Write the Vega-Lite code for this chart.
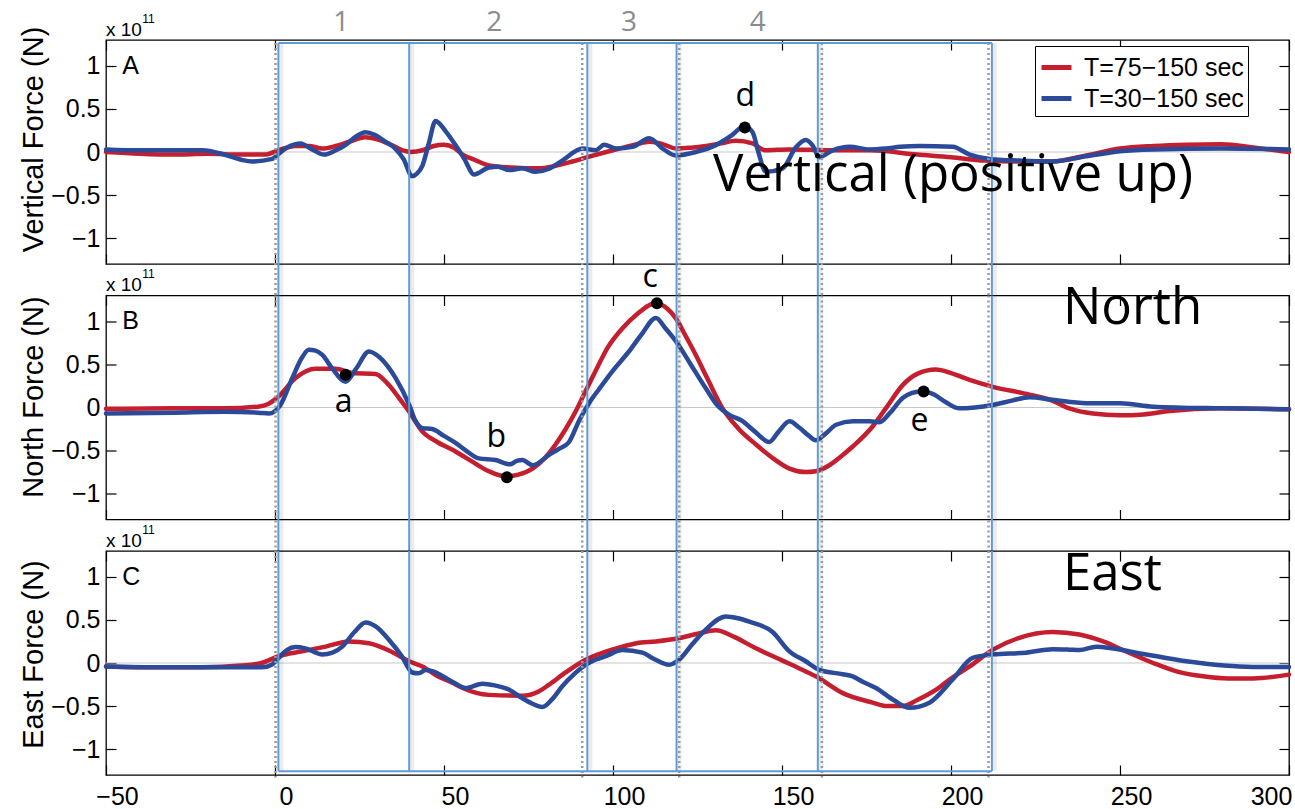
{
  "$schema": "https://vega.github.io/schema/vega-lite/v6.json",
  "background": "white",
  "padding": {"left": 18, "top": 8, "right": 0, "bottom": 0},
  "spacing": 31.5,
  "bounds": "flush",
  "resolve": {"scale": {"color": "independent"}},
  "config": {
    "view": {"stroke": "black", "strokeWidth": 1.3},
    "axis": {"labelFont": "Liberation Sans", "labelFontSize": 25, "labelColor": "black", "titleFont": "Liberation Sans", "titleFontSize": 29, "titleFontWeight": "normal", "titleColor": "black", "tickColor": "black", "tickWidth": 1.2, "labelOverlap": false, "labelFlush": false}
  },
  "datasets": {
    "curves": [
      {"p":"A","s":"T=75−150 sec","x":-50,"y":0.0},{"p":"A","s":"T=75−150 sec","x":-40,"y":-0.02},{"p":"A","s":"T=75−150 sec","x":-30,"y":-0.03},{"p":"A","s":"T=75−150 sec","x":-20,"y":-0.02},{"p":"A","s":"T=75−150 sec","x":-10,"y":-0.03},{"p":"A","s":"T=75−150 sec","x":-3,"y":-0.03},{"p":"A","s":"T=75−150 sec","x":1,"y":0.02},{"p":"A","s":"T=75−150 sec","x":6,"y":0.07},{"p":"A","s":"T=75−150 sec","x":10,"y":0.07},{"p":"A","s":"T=75−150 sec","x":14,"y":0.04},{"p":"A","s":"T=75−150 sec","x":18,"y":0.07},{"p":"A","s":"T=75−150 sec","x":22,"y":0.12},{"p":"A","s":"T=75−150 sec","x":26.7,"y":0.17},{"p":"A","s":"T=75−150 sec","x":30,"y":0.15},{"p":"A","s":"T=75−150 sec","x":34,"y":0.09},{"p":"A","s":"T=75−150 sec","x":37.7,"y":0.02},{"p":"A","s":"T=75−150 sec","x":40,"y":0.0},{"p":"A","s":"T=75−150 sec","x":43.7,"y":0.02},{"p":"A","s":"T=75−150 sec","x":47,"y":0.07},{"p":"A","s":"T=75−150 sec","x":50,"y":0.085},{"p":"A","s":"T=75−150 sec","x":53,"y":0.05},{"p":"A","s":"T=75−150 sec","x":55.5,"y":-0.03},{"p":"A","s":"T=75−150 sec","x":59,"y":-0.09},{"p":"A","s":"T=75−150 sec","x":63.3,"y":-0.155},{"p":"A","s":"T=75−150 sec","x":70,"y":-0.18},{"p":"A","s":"T=75−150 sec","x":78,"y":-0.19},{"p":"A","s":"T=75−150 sec","x":83,"y":-0.16},{"p":"A","s":"T=75−150 sec","x":88,"y":-0.11},{"p":"A","s":"T=75−150 sec","x":92.4,"y":-0.06},{"p":"A","s":"T=75−150 sec","x":98,"y":0.0},{"p":"A","s":"T=75−150 sec","x":103,"y":0.05},{"p":"A","s":"T=75−150 sec","x":107,"y":0.09},{"p":"A","s":"T=75−150 sec","x":110.7,"y":0.12},{"p":"A","s":"T=75−150 sec","x":114,"y":0.1},{"p":"A","s":"T=75−150 sec","x":118.8,"y":0.04},{"p":"A","s":"T=75−150 sec","x":123,"y":0.05},{"p":"A","s":"T=75−150 sec","x":127.5,"y":0.07},{"p":"A","s":"T=75−150 sec","x":132,"y":0.1},{"p":"A","s":"T=75−150 sec","x":136.3,"y":0.13},{"p":"A","s":"T=75−150 sec","x":141.3,"y":0.1},{"p":"A","s":"T=75−150 sec","x":145,"y":0.02},{"p":"A","s":"T=75−150 sec","x":152,"y":0.03},{"p":"A","s":"T=75−150 sec","x":165,"y":0.02},{"p":"A","s":"T=75−150 sec","x":176,"y":0.02},{"p":"A","s":"T=75−150 sec","x":190,"y":-0.03},{"p":"A","s":"T=75−150 sec","x":200,"y":-0.06},{"p":"A","s":"T=75−150 sec","x":210,"y":-0.1},{"p":"A","s":"T=75−150 sec","x":220,"y":-0.11},{"p":"A","s":"T=75−150 sec","x":230,"y":-0.11},{"p":"A","s":"T=75−150 sec","x":240,"y":-0.04},{"p":"A","s":"T=75−150 sec","x":250,"y":0.04},{"p":"A","s":"T=75−150 sec","x":260,"y":0.07},{"p":"A","s":"T=75−150 sec","x":270,"y":0.085},{"p":"A","s":"T=75−150 sec","x":280,"y":0.09},{"p":"A","s":"T=75−150 sec","x":290,"y":0.05},{"p":"A","s":"T=75−150 sec","x":300,"y":0.0},
      {"p":"A","s":"T=30−150 sec","x":-50,"y":0.03},{"p":"A","s":"T=30−150 sec","x":-40,"y":0.02},{"p":"A","s":"T=30−150 sec","x":-30,"y":0.02},{"p":"A","s":"T=30−150 sec","x":-21.5,"y":0.02},{"p":"A","s":"T=30−150 sec","x":-15,"y":-0.03},{"p":"A","s":"T=30−150 sec","x":-10,"y":-0.09},{"p":"A","s":"T=30−150 sec","x":-6.8,"y":-0.11},{"p":"A","s":"T=30−150 sec","x":-0.8,"y":-0.08},{"p":"A","s":"T=30−150 sec","x":1.1,"y":-0.02},{"p":"A","s":"T=30−150 sec","x":4,"y":0.06},{"p":"A","s":"T=30−150 sec","x":7.5,"y":0.1},{"p":"A","s":"T=30−150 sec","x":11,"y":0.03},{"p":"A","s":"T=30−150 sec","x":14.5,"y":-0.03},{"p":"A","s":"T=30−150 sec","x":18,"y":0.02},{"p":"A","s":"T=30−150 sec","x":20.8,"y":0.08},{"p":"A","s":"T=30−150 sec","x":24,"y":0.18},{"p":"A","s":"T=30−150 sec","x":26.7,"y":0.23},{"p":"A","s":"T=30−150 sec","x":29.5,"y":0.2},{"p":"A","s":"T=30−150 sec","x":32.6,"y":0.12},{"p":"A","s":"T=30−150 sec","x":35.6,"y":0.04},{"p":"A","s":"T=30−150 sec","x":38,"y":-0.08},{"p":"A","s":"T=30−150 sec","x":40.6,"y":-0.28},{"p":"A","s":"T=30−150 sec","x":42,"y":-0.25},{"p":"A","s":"T=30−150 sec","x":43.6,"y":-0.16},{"p":"A","s":"T=30−150 sec","x":45.5,"y":0.1},{"p":"A","s":"T=30−150 sec","x":47.5,"y":0.36},{"p":"A","s":"T=30−150 sec","x":50.5,"y":0.24},{"p":"A","s":"T=30−150 sec","x":53.4,"y":0.08},{"p":"A","s":"T=30−150 sec","x":56,"y":-0.08},{"p":"A","s":"T=30−150 sec","x":58.9,"y":-0.26},{"p":"A","s":"T=30−150 sec","x":63.3,"y":-0.18},{"p":"A","s":"T=30−150 sec","x":66,"y":-0.17},{"p":"A","s":"T=30−150 sec","x":69.3,"y":-0.21},{"p":"A","s":"T=30−150 sec","x":73.2,"y":-0.19},{"p":"A","s":"T=30−150 sec","x":77.1,"y":-0.23},{"p":"A","s":"T=30−150 sec","x":81.1,"y":-0.195},{"p":"A","s":"T=30−150 sec","x":85,"y":-0.1},{"p":"A","s":"T=30−150 sec","x":91,"y":0.04},{"p":"A","s":"T=30−150 sec","x":94.9,"y":0.02},{"p":"A","s":"T=30−150 sec","x":97.4,"y":0.085},{"p":"A","s":"T=30−150 sec","x":100.8,"y":0.04},{"p":"A","s":"T=30−150 sec","x":105.8,"y":0.06},{"p":"A","s":"T=30−150 sec","x":110.7,"y":0.16},{"p":"A","s":"T=30−150 sec","x":114.7,"y":0.04},{"p":"A","s":"T=30−150 sec","x":118.5,"y":-0.04},{"p":"A","s":"T=30−150 sec","x":124.5,"y":0.0},{"p":"A","s":"T=30−150 sec","x":130.4,"y":0.08},{"p":"A","s":"T=30−150 sec","x":135,"y":0.19},{"p":"A","s":"T=30−150 sec","x":138.8,"y":0.3},{"p":"A","s":"T=30−150 sec","x":141.3,"y":0.23},{"p":"A","s":"T=30−150 sec","x":143,"y":0.0},{"p":"A","s":"T=30−150 sec","x":145.2,"y":-0.23},{"p":"A","s":"T=30−150 sec","x":150.2,"y":-0.19},{"p":"A","s":"T=30−150 sec","x":154,"y":0.05},{"p":"A","s":"T=30−150 sec","x":157,"y":0.14},{"p":"A","s":"T=30−150 sec","x":159,"y":0.08},{"p":"A","s":"T=30−150 sec","x":161,"y":-0.06},{"p":"A","s":"T=30−150 sec","x":165,"y":0.02},{"p":"A","s":"T=30−150 sec","x":170,"y":0.06},{"p":"A","s":"T=30−150 sec","x":175.9,"y":0.03},{"p":"A","s":"T=30−150 sec","x":180.7,"y":0.04},{"p":"A","s":"T=30−150 sec","x":185,"y":0.06},{"p":"A","s":"T=30−150 sec","x":190.7,"y":0.07},{"p":"A","s":"T=30−150 sec","x":200.5,"y":0.06},{"p":"A","s":"T=30−150 sec","x":205.5,"y":-0.03},{"p":"A","s":"T=30−150 sec","x":211.4,"y":-0.08},{"p":"A","s":"T=30−150 sec","x":220,"y":-0.1},{"p":"A","s":"T=30−150 sec","x":230,"y":-0.11},{"p":"A","s":"T=30−150 sec","x":240,"y":-0.05},{"p":"A","s":"T=30−150 sec","x":250,"y":0.01},{"p":"A","s":"T=30−150 sec","x":260,"y":0.03},{"p":"A","s":"T=30−150 sec","x":280,"y":0.04},{"p":"A","s":"T=30−150 sec","x":300,"y":0.03},
      {"p":"B","s":"T=75−150 sec","x":-50,"y":-0.015},{"p":"B","s":"T=75−150 sec","x":-30,"y":-0.01},{"p":"B","s":"T=75−150 sec","x":-15,"y":-0.01},{"p":"B","s":"T=75−150 sec","x":-5,"y":0.01},{"p":"B","s":"T=75−150 sec","x":-2,"y":0.04},{"p":"B","s":"T=75−150 sec","x":1.1,"y":0.13},{"p":"B","s":"T=75−150 sec","x":6,"y":0.34},{"p":"B","s":"T=75−150 sec","x":12,"y":0.45},{"p":"B","s":"T=75−150 sec","x":17.9,"y":0.45},{"p":"B","s":"T=75−150 sec","x":22.9,"y":0.4},{"p":"B","s":"T=75−150 sec","x":29.7,"y":0.39},{"p":"B","s":"T=75−150 sec","x":33.7,"y":0.26},{"p":"B","s":"T=75−150 sec","x":36.5,"y":0.12},{"p":"B","s":"T=75−150 sec","x":39.7,"y":-0.05},{"p":"B","s":"T=75−150 sec","x":43.6,"y":-0.28},{"p":"B","s":"T=75−150 sec","x":48,"y":-0.4},{"p":"B","s":"T=75−150 sec","x":53.4,"y":-0.51},{"p":"B","s":"T=75−150 sec","x":58,"y":-0.62},{"p":"B","s":"T=75−150 sec","x":63.3,"y":-0.74},{"p":"B","s":"T=75−150 sec","x":68.3,"y":-0.8},{"p":"B","s":"T=75−150 sec","x":72,"y":-0.78},{"p":"B","s":"T=75−150 sec","x":76.2,"y":-0.71},{"p":"B","s":"T=75−150 sec","x":80,"y":-0.58},{"p":"B","s":"T=75−150 sec","x":83,"y":-0.43},{"p":"B","s":"T=75−150 sec","x":86,"y":-0.25},{"p":"B","s":"T=75−150 sec","x":88.9,"y":-0.05},{"p":"B","s":"T=75−150 sec","x":92,"y":0.2},{"p":"B","s":"T=75−150 sec","x":94.8,"y":0.42},{"p":"B","s":"T=75−150 sec","x":98.5,"y":0.7},{"p":"B","s":"T=75−150 sec","x":102.8,"y":0.92},{"p":"B","s":"T=75−150 sec","x":107,"y":1.08},{"p":"B","s":"T=75−150 sec","x":112.6,"y":1.21},{"p":"B","s":"T=75−150 sec","x":116,"y":1.15},{"p":"B","s":"T=75−150 sec","x":118.5,"y":1.04},{"p":"B","s":"T=75−150 sec","x":121.5,"y":0.83},{"p":"B","s":"T=75−150 sec","x":124.5,"y":0.61},{"p":"B","s":"T=75−150 sec","x":128,"y":0.33},{"p":"B","s":"T=75−150 sec","x":132.4,"y":-0.01},{"p":"B","s":"T=75−150 sec","x":137,"y":-0.24},{"p":"B","s":"T=75−150 sec","x":142.3,"y":-0.43},{"p":"B","s":"T=75−150 sec","x":147,"y":-0.58},{"p":"B","s":"T=75−150 sec","x":152.2,"y":-0.71},{"p":"B","s":"T=75−150 sec","x":157,"y":-0.75},{"p":"B","s":"T=75−150 sec","x":160,"y":-0.74},{"p":"B","s":"T=75−150 sec","x":164,"y":-0.67},{"p":"B","s":"T=75−150 sec","x":168,"y":-0.55},{"p":"B","s":"T=75−150 sec","x":171,"y":-0.45},{"p":"B","s":"T=75−150 sec","x":176.8,"y":-0.22},{"p":"B","s":"T=75−150 sec","x":180.7,"y":-0.01},{"p":"B","s":"T=75−150 sec","x":185.7,"y":0.26},{"p":"B","s":"T=75−150 sec","x":190,"y":0.39},{"p":"B","s":"T=75−150 sec","x":195.5,"y":0.44},{"p":"B","s":"T=75−150 sec","x":200,"y":0.4},{"p":"B","s":"T=75−150 sec","x":205.5,"y":0.32},{"p":"B","s":"T=75−150 sec","x":212.4,"y":0.24},{"p":"B","s":"T=75−150 sec","x":223.2,"y":0.15},{"p":"B","s":"T=75−150 sec","x":230,"y":0.08},{"p":"B","s":"T=75−150 sec","x":235,"y":-0.01},{"p":"B","s":"T=75−150 sec","x":242,"y":-0.07},{"p":"B","s":"T=75−150 sec","x":249.9,"y":-0.09},{"p":"B","s":"T=75−150 sec","x":257,"y":-0.08},{"p":"B","s":"T=75−150 sec","x":264.7,"y":-0.04},{"p":"B","s":"T=75−150 sec","x":279.5,"y":-0.01},{"p":"B","s":"T=75−150 sec","x":300,"y":-0.02},
      {"p":"B","s":"T=30−150 sec","x":-50,"y":-0.07},{"p":"B","s":"T=30−150 sec","x":-30,"y":-0.06},{"p":"B","s":"T=30−150 sec","x":-15,"y":-0.05},{"p":"B","s":"T=30−150 sec","x":-5,"y":-0.06},{"p":"B","s":"T=30−150 sec","x":-1.8,"y":-0.07},{"p":"B","s":"T=30−150 sec","x":1.6,"y":0.03},{"p":"B","s":"T=30−150 sec","x":5.1,"y":0.34},{"p":"B","s":"T=30−150 sec","x":8,"y":0.58},{"p":"B","s":"T=30−150 sec","x":10,"y":0.67},{"p":"B","s":"T=30−150 sec","x":12,"y":0.66},{"p":"B","s":"T=30−150 sec","x":14,"y":0.61},{"p":"B","s":"T=30−150 sec","x":17,"y":0.45},{"p":"B","s":"T=30−150 sec","x":20.9,"y":0.3},{"p":"B","s":"T=30−150 sec","x":24,"y":0.45},{"p":"B","s":"T=30−150 sec","x":27.8,"y":0.65},{"p":"B","s":"T=30−150 sec","x":31,"y":0.58},{"p":"B","s":"T=30−150 sec","x":35.7,"y":0.34},{"p":"B","s":"T=30−150 sec","x":39.7,"y":0.03},{"p":"B","s":"T=30−150 sec","x":41.5,"y":-0.15},{"p":"B","s":"T=30−150 sec","x":43.6,"y":-0.24},{"p":"B","s":"T=30−150 sec","x":46.5,"y":-0.25},{"p":"B","s":"T=30−150 sec","x":50,"y":-0.33},{"p":"B","s":"T=30−150 sec","x":53.4,"y":-0.41},{"p":"B","s":"T=30−150 sec","x":56.5,"y":-0.5},{"p":"B","s":"T=30−150 sec","x":60.3,"y":-0.59},{"p":"B","s":"T=30−150 sec","x":65.3,"y":-0.61},{"p":"B","s":"T=30−150 sec","x":69.5,"y":-0.66},{"p":"B","s":"T=30−150 sec","x":71.5,"y":-0.62},{"p":"B","s":"T=30−150 sec","x":73.2,"y":-0.61},{"p":"B","s":"T=30−150 sec","x":76.2,"y":-0.67},{"p":"B","s":"T=30−150 sec","x":81.1,"y":-0.55},{"p":"B","s":"T=30−150 sec","x":84,"y":-0.48},{"p":"B","s":"T=30−150 sec","x":87,"y":-0.4},{"p":"B","s":"T=30−150 sec","x":90,"y":-0.15},{"p":"B","s":"T=30−150 sec","x":92.9,"y":0.05},{"p":"B","s":"T=30−150 sec","x":96,"y":0.22},{"p":"B","s":"T=30−150 sec","x":99.8,"y":0.42},{"p":"B","s":"T=30−150 sec","x":104.7,"y":0.65},{"p":"B","s":"T=30−150 sec","x":108.5,"y":0.85},{"p":"B","s":"T=30−150 sec","x":112.7,"y":1.04},{"p":"B","s":"T=30−150 sec","x":115.5,"y":0.92},{"p":"B","s":"T=30−150 sec","x":118.6,"y":0.77},{"p":"B","s":"T=30−150 sec","x":123,"y":0.5},{"p":"B","s":"T=30−150 sec","x":127.5,"y":0.22},{"p":"B","s":"T=30−150 sec","x":131,"y":0.02},{"p":"B","s":"T=30−150 sec","x":134.4,"y":-0.085},{"p":"B","s":"T=30−150 sec","x":138,"y":-0.15},{"p":"B","s":"T=30−150 sec","x":142,"y":-0.28},{"p":"B","s":"T=30−150 sec","x":146.2,"y":-0.4},{"p":"B","s":"T=30−150 sec","x":149,"y":-0.28},{"p":"B","s":"T=30−150 sec","x":152.2,"y":-0.16},{"p":"B","s":"T=30−150 sec","x":155,"y":-0.23},{"p":"B","s":"T=30−150 sec","x":158,"y":-0.33},{"p":"B","s":"T=30−150 sec","x":160,"y":-0.38},{"p":"B","s":"T=30−150 sec","x":163,"y":-0.3},{"p":"B","s":"T=30−150 sec","x":166,"y":-0.2},{"p":"B","s":"T=30−150 sec","x":171,"y":-0.16},{"p":"B","s":"T=30−150 sec","x":175.9,"y":-0.16},{"p":"B","s":"T=30−150 sec","x":178.8,"y":-0.17},{"p":"B","s":"T=30−150 sec","x":182,"y":-0.06},{"p":"B","s":"T=30−150 sec","x":185.7,"y":0.11},{"p":"B","s":"T=30−150 sec","x":188.5,"y":0.17},{"p":"B","s":"T=30−150 sec","x":191.6,"y":0.19},{"p":"B","s":"T=30−150 sec","x":195,"y":0.15},{"p":"B","s":"T=30−150 sec","x":198.5,"y":0.06},{"p":"B","s":"T=30−150 sec","x":202.5,"y":-0.01},{"p":"B","s":"T=30−150 sec","x":207,"y":0.0},{"p":"B","s":"T=30−150 sec","x":212.4,"y":0.03},{"p":"B","s":"T=30−150 sec","x":218,"y":0.08},{"p":"B","s":"T=30−150 sec","x":223.2,"y":0.12},{"p":"B","s":"T=30−150 sec","x":230,"y":0.09},{"p":"B","s":"T=30−150 sec","x":240,"y":0.05},{"p":"B","s":"T=30−150 sec","x":250,"y":0.05},{"p":"B","s":"T=30−150 sec","x":259.8,"y":0.01},{"p":"B","s":"T=30−150 sec","x":280,"y":-0.01},{"p":"B","s":"T=30−150 sec","x":300,"y":-0.02},
      {"p":"C","s":"T=75−150 sec","x":-50,"y":-0.04},{"p":"C","s":"T=75−150 sec","x":-35,"y":-0.05},{"p":"C","s":"T=75−150 sec","x":-21.5,"y":-0.05},{"p":"C","s":"T=75−150 sec","x":-10,"y":-0.03},{"p":"C","s":"T=75−150 sec","x":-4,"y":0.0},{"p":"C","s":"T=75−150 sec","x":1.1,"y":0.08},{"p":"C","s":"T=75−150 sec","x":8,"y":0.135},{"p":"C","s":"T=75−150 sec","x":15,"y":0.19},{"p":"C","s":"T=75−150 sec","x":21.9,"y":0.25},{"p":"C","s":"T=75−150 sec","x":27.8,"y":0.23},{"p":"C","s":"T=75−150 sec","x":34,"y":0.14},{"p":"C","s":"T=75−150 sec","x":39.7,"y":0.02},{"p":"C","s":"T=75−150 sec","x":43.6,"y":-0.04},{"p":"C","s":"T=75−150 sec","x":48,"y":-0.15},{"p":"C","s":"T=75−150 sec","x":52.5,"y":-0.23},{"p":"C","s":"T=75−150 sec","x":55.5,"y":-0.29},{"p":"C","s":"T=75−150 sec","x":63.3,"y":-0.37},{"p":"C","s":"T=75−150 sec","x":73.2,"y":-0.38},{"p":"C","s":"T=75−150 sec","x":78,"y":-0.33},{"p":"C","s":"T=75−150 sec","x":81.1,"y":-0.25},{"p":"C","s":"T=75−150 sec","x":86,"y":-0.11},{"p":"C","s":"T=75−150 sec","x":92,"y":0.04},{"p":"C","s":"T=75−150 sec","x":97,"y":0.12},{"p":"C","s":"T=75−150 sec","x":102.8,"y":0.19},{"p":"C","s":"T=75−150 sec","x":107,"y":0.23},{"p":"C","s":"T=75−150 sec","x":112.7,"y":0.25},{"p":"C","s":"T=75−150 sec","x":119.6,"y":0.29},{"p":"C","s":"T=75−150 sec","x":125,"y":0.34},{"p":"C","s":"T=75−150 sec","x":130.4,"y":0.38},{"p":"C","s":"T=75−150 sec","x":136,"y":0.3},{"p":"C","s":"T=75−150 sec","x":142.3,"y":0.17},{"p":"C","s":"T=75−150 sec","x":150,"y":0.03},{"p":"C","s":"T=75−150 sec","x":155,"y":-0.06},{"p":"C","s":"T=75−150 sec","x":160,"y":-0.155},{"p":"C","s":"T=75−150 sec","x":168,"y":-0.35},{"p":"C","s":"T=75−150 sec","x":176.8,"y":-0.46},{"p":"C","s":"T=75−150 sec","x":181,"y":-0.5},{"p":"C","s":"T=75−150 sec","x":185.7,"y":-0.5},{"p":"C","s":"T=75−150 sec","x":190,"y":-0.43},{"p":"C","s":"T=75−150 sec","x":195.6,"y":-0.31},{"p":"C","s":"T=75−150 sec","x":200,"y":-0.18},{"p":"C","s":"T=75−150 sec","x":205.5,"y":-0.04},{"p":"C","s":"T=75−150 sec","x":212.4,"y":0.155},{"p":"C","s":"T=75−150 sec","x":220,"y":0.29},{"p":"C","s":"T=75−150 sec","x":230.1,"y":0.36},{"p":"C","s":"T=75−150 sec","x":238,"y":0.33},{"p":"C","s":"T=75−150 sec","x":245,"y":0.25},{"p":"C","s":"T=75−150 sec","x":252,"y":0.13},{"p":"C","s":"T=75−150 sec","x":259.8,"y":0.0},{"p":"C","s":"T=75−150 sec","x":267,"y":-0.1},{"p":"C","s":"T=75−150 sec","x":274.6,"y":-0.155},{"p":"C","s":"T=75−150 sec","x":282,"y":-0.18},{"p":"C","s":"T=75−150 sec","x":289.4,"y":-0.18},{"p":"C","s":"T=75−150 sec","x":300,"y":-0.135},
      {"p":"C","s":"T=30−150 sec","x":-50,"y":-0.04},{"p":"C","s":"T=30−150 sec","x":-30,"y":-0.05},{"p":"C","s":"T=30−150 sec","x":-10,"y":-0.05},{"p":"C","s":"T=30−150 sec","x":-3.8,"y":-0.05},{"p":"C","s":"T=30−150 sec","x":-1,"y":-0.02},{"p":"C","s":"T=30−150 sec","x":1.1,"y":0.06},{"p":"C","s":"T=30−150 sec","x":3.5,"y":0.15},{"p":"C","s":"T=30−150 sec","x":6,"y":0.185},{"p":"C","s":"T=30−150 sec","x":9,"y":0.17},{"p":"C","s":"T=30−150 sec","x":14,"y":0.1},{"p":"C","s":"T=30−150 sec","x":17,"y":0.12},{"p":"C","s":"T=30−150 sec","x":19.9,"y":0.19},{"p":"C","s":"T=30−150 sec","x":23.5,"y":0.36},{"p":"C","s":"T=30−150 sec","x":26.8,"y":0.47},{"p":"C","s":"T=30−150 sec","x":30,"y":0.42},{"p":"C","s":"T=30−150 sec","x":33.7,"y":0.27},{"p":"C","s":"T=30−150 sec","x":37.5,"y":0.08},{"p":"C","s":"T=30−150 sec","x":40.6,"y":-0.11},{"p":"C","s":"T=30−150 sec","x":42.5,"y":-0.12},{"p":"C","s":"T=30−150 sec","x":44.6,"y":-0.08},{"p":"C","s":"T=30−150 sec","x":47,"y":-0.1},{"p":"C","s":"T=30−150 sec","x":49.5,"y":-0.15},{"p":"C","s":"T=30−150 sec","x":53,"y":-0.23},{"p":"C","s":"T=30−150 sec","x":56.4,"y":-0.29},{"p":"C","s":"T=30−150 sec","x":61.4,"y":-0.24},{"p":"C","s":"T=30−150 sec","x":65,"y":-0.26},{"p":"C","s":"T=30−150 sec","x":69.3,"y":-0.31},{"p":"C","s":"T=30−150 sec","x":73.2,"y":-0.41},{"p":"C","s":"T=30−150 sec","x":76,"y":-0.47},{"p":"C","s":"T=30−150 sec","x":79.1,"y":-0.51},{"p":"C","s":"T=30−150 sec","x":82,"y":-0.42},{"p":"C","s":"T=30−150 sec","x":85,"y":-0.27},{"p":"C","s":"T=30−150 sec","x":88.5,"y":-0.13},{"p":"C","s":"T=30−150 sec","x":92,"y":-0.02},{"p":"C","s":"T=30−150 sec","x":95,"y":0.04},{"p":"C","s":"T=30−150 sec","x":97.9,"y":0.08},{"p":"C","s":"T=30−150 sec","x":102.8,"y":0.15},{"p":"C","s":"T=30−150 sec","x":108.7,"y":0.12},{"p":"C","s":"T=30−150 sec","x":112,"y":0.05},{"p":"C","s":"T=30−150 sec","x":116.6,"y":-0.02},{"p":"C","s":"T=30−150 sec","x":119.6,"y":0.04},{"p":"C","s":"T=30−150 sec","x":123.5,"y":0.22},{"p":"C","s":"T=30−150 sec","x":127.5,"y":0.39},{"p":"C","s":"T=30−150 sec","x":133.4,"y":0.54},{"p":"C","s":"T=30−150 sec","x":137,"y":0.52},{"p":"C","s":"T=30−150 sec","x":140.3,"y":0.48},{"p":"C","s":"T=30−150 sec","x":147.2,"y":0.36},{"p":"C","s":"T=30−150 sec","x":152.2,"y":0.135},{"p":"C","s":"T=30−150 sec","x":157,"y":0.02},{"p":"C","s":"T=30−150 sec","x":161,"y":-0.08},{"p":"C","s":"T=30−150 sec","x":168,"y":-0.13},{"p":"C","s":"T=30−150 sec","x":170.9,"y":-0.155},{"p":"C","s":"T=30−150 sec","x":174,"y":-0.22},{"p":"C","s":"T=30−150 sec","x":177.8,"y":-0.29},{"p":"C","s":"T=30−150 sec","x":183,"y":-0.43},{"p":"C","s":"T=30−150 sec","x":187.7,"y":-0.52},{"p":"C","s":"T=30−150 sec","x":193.6,"y":-0.46},{"p":"C","s":"T=30−150 sec","x":200.5,"y":-0.19},{"p":"C","s":"T=30−150 sec","x":206.4,"y":0.06},{"p":"C","s":"T=30−150 sec","x":212.4,"y":0.1},{"p":"C","s":"T=30−150 sec","x":222.2,"y":0.12},{"p":"C","s":"T=30−150 sec","x":230.1,"y":0.16},{"p":"C","s":"T=30−150 sec","x":235,"y":0.155},{"p":"C","s":"T=30−150 sec","x":238,"y":0.15},{"p":"C","s":"T=30−150 sec","x":243,"y":0.19},{"p":"C","s":"T=30−150 sec","x":254.8,"y":0.12},{"p":"C","s":"T=30−150 sec","x":269.6,"y":0.02},{"p":"C","s":"T=30−150 sec","x":289.4,"y":-0.045},{"p":"C","s":"T=30−150 sec","x":300,"y":-0.045}
    ],
    "edges": [
      {"p":"A","x":1.0,"y":1.265,"y2":-1.67},{"p":"A","x":39.7,"y":1.265,"y2":-1.67},{"p":"A","x":92.4,"y":1.265,"y2":-1.67},{"p":"A","x":118.8,"y":1.265,"y2":-1.67},{"p":"A","x":160.6,"y":1.265,"y2":-1.67},{"p":"A","x":212.1,"y":1.265,"y2":-1.67},
      {"p":"B","x":1.0,"y":1.3,"y2":-1.67},{"p":"B","x":39.7,"y":1.3,"y2":-1.67},{"p":"B","x":92.4,"y":1.3,"y2":-1.67},{"p":"B","x":118.8,"y":1.3,"y2":-1.67},{"p":"B","x":160.6,"y":1.3,"y2":-1.67},{"p":"B","x":212.1,"y":1.3,"y2":-1.67},
      {"p":"C","x":1.0,"y":1.3,"y2":-1.256},{"p":"C","x":39.7,"y":1.3,"y2":-1.256},{"p":"C","x":92.4,"y":1.3,"y2":-1.256},{"p":"C","x":118.8,"y":1.3,"y2":-1.256},{"p":"C","x":160.6,"y":1.3,"y2":-1.256},{"p":"C","x":212.1,"y":1.3,"y2":-1.256}
    ],
    "hedges": [
      {"p":"A","x":1.0,"x2":212.1,"y":1.265},
      {"p":"C","x":1.0,"x2":212.1,"y":-1.256}
    ],
    "dots": [
      {"p":"A","x":0.15,"y":1.265,"y2":-1.67},{"p":"A","x":90.9,"y":1.265,"y2":-1.67},{"p":"A","x":119.6,"y":1.265,"y2":-1.67},{"p":"A","x":161.8,"y":1.265,"y2":-1.67},{"p":"A","x":211.1,"y":1.265,"y2":-1.67},
      {"p":"B","x":0.15,"y":1.3,"y2":-1.67},{"p":"B","x":90.9,"y":1.3,"y2":-1.67},{"p":"B","x":119.6,"y":1.3,"y2":-1.67},{"p":"B","x":161.8,"y":1.3,"y2":-1.67},{"p":"B","x":211.1,"y":1.3,"y2":-1.67},
      {"p":"C","x":0.15,"y":1.3,"y2":-1.33},{"p":"C","x":90.9,"y":1.3,"y2":-1.33},{"p":"C","x":119.6,"y":1.3,"y2":-1.33},{"p":"C","x":161.8,"y":1.3,"y2":-1.33},{"p":"C","x":211.1,"y":1.3,"y2":-1.33}
    ],
    "marks": [
      {"p":"A","x":139,"y":0.284},
      {"p":"B","x":20.9,"y":0.38},{"p":"B","x":68.6,"y":-0.81},{"p":"B","x":113,"y":1.21},{"p":"B","x":191.9,"y":0.186}
    ],
    "marklabels": [
      {"p":"A","x":139.1,"y":0.537,"t":"d"},
      {"p":"B","x":20.3,"y":-0.047,"t":"a"},{"p":"B","x":65.5,"y":-0.46,"t":"b"},{"p":"B","x":111,"y":1.4,"t":"c"},{"p":"B","x":190.7,"y":-0.267,"t":"e"}
    ],
    "notes": [
      {"p":"A","k":"letter","x":-45.2,"y":1.0,"t":"A"},{"p":"B","k":"letter","x":-45.2,"y":1.0,"t":"B"},{"p":"C","k":"letter","x":-45.2,"y":1.0,"t":"C"},
      {"p":"A","k":"big","x":129.6,"y":-0.447,"t":"Vertical (positive up)"},{"p":"B","k":"big","x":233.1,"y":0.973,"t":"North"},{"p":"C","k":"big","x":233.1,"y":0.843,"t":"East"},
      {"p":"A","k":"exp","x":-50,"y":1.35,"t":"x 10"},{"p":"B","k":"exp","x":-50,"y":1.35,"t":"x 10"},{"p":"C","k":"exp","x":-50,"y":1.35,"t":"x 10"},
      {"p":"A","k":"sup","x":-39.3,"y":1.5,"t":"11"},{"p":"B","k":"sup","x":-39.3,"y":1.5,"t":"11"},{"p":"C","k":"sup","x":-39.3,"y":1.5,"t":"11"},
      {"p":"A","k":"group","x":19.6,"y":1.495,"t":"1"},{"p":"A","k":"group","x":64.9,"y":1.495,"t":"2"},{"p":"A","k":"group","x":104.7,"y":1.495,"t":"3"},{"p":"A","k":"group","x":142.8,"y":1.495,"t":"4"}
    ]
  },
  "vconcat": [
    {
      "width": 1183, "height": 224,
      "resolve": {"axis": {"x": "independent", "y": "independent"}},
      "layer": [
        {"data": {"values": [{"z": 0}]}, "mark": {"type": "rule", "color": "#c8c8c8", "strokeWidth": 1.2},
         "encoding": {"y": {"field": "z", "type": "quantitative", "scale": {"domain": [-1.3, 1.3], "nice": false, "zero": false}, "axis": {"orient": "right", "values": [-1, -0.5, 0, 0.5, 1], "labels": false, "title": null, "tickSize": -10, "domain": false, "grid": false}}}},
        {"data": {"name": "curves"}, "transform": [{"filter": "datum.p === 'A'"}],
         "mark": {"type": "line", "interpolate": "monotone", "strokeWidth": 4.5, "strokeCap": "round", "strokeJoin": "round"},
         "encoding": {
           "x": {"field": "x", "type": "quantitative", "scale": {"domain": [-50, 300], "nice": false, "zero": false}, "axis": {"orient": "bottom", "values": [-50, 0, 50, 100, 150, 200, 250, 300], "labels": false, "title": null, "tickSize": -10, "domain": false, "grid": false}},
           "y": {"field": "y", "type": "quantitative", "scale": {"domain": [-1.3, 1.3], "nice": false, "zero": false}, "axis": {"orient": "left", "values": [-1, -0.5, 0, 0.5, 1], "format": "~g", "title": "Vertical Force (N)", "tickSize": -10, "labelPadding": 16, "titlePadding": 2, "titleY": 99, "domain": false, "grid": false}},
           "color": {"field": "s", "type": "nominal", "scale": {"domain": ["T=75−150 sec", "T=30−150 sec"], "range": ["#c41e2f", "#2c4a9a"]},
             "legend": {"orient": "none", "legendX": 929, "legendY": 6, "title": null, "strokeColor": "black", "fillColor": "white", "padding": 4, "symbolType": "stroke", "symbolStrokeWidth": 5, "symbolSize": 900, "labelFont": "Liberation Sans", "labelFontSize": 25, "labelColor": "black", "rowPadding": -10, "labelOffset": 10, "cornerRadius": 0}}
         }},
        {"data": {"name": "edges"}, "transform": [{"filter": "datum.p === 'A'"}], "mark": {"type": "rule", "color": "#000000", "opacity": 0.08, "strokeWidth": 4, "xOffset": 3},
         "encoding": {"x": {"field": "x", "type": "quantitative", "axis": null}, "y": {"field": "y", "type": "quantitative", "axis": null}, "y2": {"field": "y2"}}},
        {"data": {"name": "edges"}, "transform": [{"filter": "datum.p === 'A'"}], "mark": {"type": "rule", "color": "#5f9bd6", "strokeWidth": 2},
         "encoding": {"x": {"field": "x", "type": "quantitative", "scale": {"domain": [-50, 300], "nice": false, "zero": false}, "axis": {"orient": "top", "values": [-50, 0, 50, 100, 150, 200, 250, 300], "labels": false, "title": null, "tickSize": -10, "domain": false, "grid": false}},
           "y": {"field": "y", "type": "quantitative", "scale": {"domain": [-1.3, 1.3], "nice": false, "zero": false}, "axis": null}, "y2": {"field": "y2"}}},
        {"data": {"name": "dots"}, "transform": [{"filter": "datum.p === 'A'"}], "mark": {"type": "rule", "color": "#9a9a9a", "strokeWidth": 2.5, "strokeDash": [2, 3]},
         "encoding": {"x": {"field": "x", "type": "quantitative", "axis": null}, "y": {"field": "y", "type": "quantitative", "axis": null}, "y2": {"field": "y2"}}},
        {"data": {"name": "hedges"}, "transform": [{"filter": "datum.p === 'A'"}], "mark": {"type": "rule", "color": "#5f9bd6", "strokeWidth": 2},
         "encoding": {"x": {"field": "x", "type": "quantitative", "axis": null}, "x2": {"field": "x2"}, "y": {"field": "y", "type": "quantitative", "axis": null}}},
        {"data": {"name": "marks"}, "transform": [{"filter": "datum.p === 'A'"}], "mark": {"type": "circle", "color": "black", "opacity": 1, "size": 140},
         "encoding": {"x": {"field": "x", "type": "quantitative", "axis": null}, "y": {"field": "y", "type": "quantitative", "axis": null}}},
        {"data": {"name": "marklabels"}, "transform": [{"filter": "datum.p === 'A'"}], "mark": {"type": "text", "font": "Open Sans", "fontSize": 32, "color": "black", "align": "center", "baseline": "alphabetic"},
         "encoding": {"x": {"field": "x", "type": "quantitative", "axis": null}, "y": {"field": "y", "type": "quantitative", "axis": null}, "text": {"field": "t"}}},
        {"data": {"name": "notes"}, "transform": [{"filter": "datum.p === 'A' && datum.k === 'letter'"}], "mark": {"type": "text", "font": "Liberation Sans", "fontSize": 25, "color": "black", "align": "left", "baseline": "middle"},
         "encoding": {"x": {"field": "x", "type": "quantitative", "axis": null}, "y": {"field": "y", "type": "quantitative", "axis": null}, "text": {"field": "t"}}},
        {"data": {"name": "notes"}, "transform": [{"filter": "datum.p === 'A' && datum.k === 'big'"}], "mark": {"type": "text", "font": "Open Sans", "fontSize": 51, "color": "black", "align": "left", "baseline": "alphabetic"},
         "encoding": {"x": {"field": "x", "type": "quantitative", "axis": null}, "y": {"field": "y", "type": "quantitative", "axis": null}, "text": {"field": "t"}}},
        {"data": {"name": "notes"}, "transform": [{"filter": "datum.p === 'A' && datum.k === 'exp'"}], "mark": {"type": "text", "font": "Liberation Sans", "fontSize": 19, "color": "black", "align": "left", "baseline": "alphabetic"},
         "encoding": {"x": {"field": "x", "type": "quantitative", "axis": null}, "y": {"field": "y", "type": "quantitative", "axis": null}, "text": {"field": "t"}}},
        {"data": {"name": "notes"}, "transform": [{"filter": "datum.p === 'A' && datum.k === 'sup'"}], "mark": {"type": "text", "font": "Liberation Sans", "fontSize": 12, "color": "black", "align": "left", "baseline": "alphabetic"},
         "encoding": {"x": {"field": "x", "type": "quantitative", "axis": null}, "y": {"field": "y", "type": "quantitative", "axis": null}, "text": {"field": "t"}}},
        {"data": {"name": "notes"}, "transform": [{"filter": "datum.p === 'A' && datum.k === 'group'"}], "mark": {"type": "text", "font": "Open Sans", "fontSize": 28, "color": "#8c8c8c", "align": "center", "baseline": "middle"},
         "encoding": {"x": {"field": "x", "type": "quantitative", "axis": null}, "y": {"field": "y", "type": "quantitative", "axis": null}, "text": {"field": "t"}}}
      ]
    },
    {
      "width": 1183, "height": 224,
      "resolve": {"axis": {"x": "independent", "y": "independent"}},
      "layer": [
        {"data": {"values": [{"z": 0}]}, "mark": {"type": "rule", "color": "#c8c8c8", "strokeWidth": 1.2},
         "encoding": {"y": {"field": "z", "type": "quantitative", "scale": {"domain": [-1.3, 1.3], "nice": false, "zero": false}, "axis": {"orient": "right", "values": [-1, -0.5, 0, 0.5, 1], "labels": false, "title": null, "tickSize": -10, "domain": false, "grid": false}}}},
        {"data": {"name": "curves"}, "transform": [{"filter": "datum.p === 'B'"}],
         "mark": {"type": "line", "interpolate": "monotone", "strokeWidth": 4.5, "strokeCap": "round", "strokeJoin": "round"},
         "encoding": {
           "x": {"field": "x", "type": "quantitative", "scale": {"domain": [-50, 300], "nice": false, "zero": false}, "axis": {"orient": "bottom", "values": [-50, 0, 50, 100, 150, 200, 250, 300], "labels": false, "title": null, "tickSize": -10, "domain": false, "grid": false}},
           "y": {"field": "y", "type": "quantitative", "scale": {"domain": [-1.3, 1.3], "nice": false, "zero": false}, "axis": {"orient": "left", "values": [-1, -0.5, 0, 0.5, 1], "format": "~g", "title": "North Force (N)", "tickSize": -10, "labelPadding": 16, "titlePadding": 2, "titleY": 101, "domain": false, "grid": false}},
           "color": {"field": "s", "type": "nominal", "scale": {"domain": ["T=75−150 sec", "T=30−150 sec"], "range": ["#c41e2f", "#2c4a9a"]}, "legend": null}
         }},
        {"data": {"name": "edges"}, "transform": [{"filter": "datum.p === 'B'"}], "mark": {"type": "rule", "color": "#000000", "opacity": 0.08, "strokeWidth": 4, "xOffset": 3},
         "encoding": {"x": {"field": "x", "type": "quantitative", "axis": null}, "y": {"field": "y", "type": "quantitative", "axis": null}, "y2": {"field": "y2"}}},
        {"data": {"name": "edges"}, "transform": [{"filter": "datum.p === 'B'"}], "mark": {"type": "rule", "color": "#5f9bd6", "strokeWidth": 2},
         "encoding": {"x": {"field": "x", "type": "quantitative", "scale": {"domain": [-50, 300], "nice": false, "zero": false}, "axis": {"orient": "top", "values": [-50, 0, 50, 100, 150, 200, 250, 300], "labels": false, "title": null, "tickSize": -10, "domain": false, "grid": false}},
           "y": {"field": "y", "type": "quantitative", "scale": {"domain": [-1.3, 1.3], "nice": false, "zero": false}, "axis": null}, "y2": {"field": "y2"}}},
        {"data": {"name": "dots"}, "transform": [{"filter": "datum.p === 'B'"}], "mark": {"type": "rule", "color": "#9a9a9a", "strokeWidth": 2.5, "strokeDash": [2, 3]},
         "encoding": {"x": {"field": "x", "type": "quantitative", "axis": null}, "y": {"field": "y", "type": "quantitative", "axis": null}, "y2": {"field": "y2"}}},
        {"data": {"name": "marks"}, "transform": [{"filter": "datum.p === 'B'"}], "mark": {"type": "circle", "color": "black", "opacity": 1, "size": 140},
         "encoding": {"x": {"field": "x", "type": "quantitative", "axis": null}, "y": {"field": "y", "type": "quantitative", "axis": null}}},
        {"data": {"name": "marklabels"}, "transform": [{"filter": "datum.p === 'B'"}], "mark": {"type": "text", "font": "Open Sans", "fontSize": 32, "color": "black", "align": "center", "baseline": "alphabetic"},
         "encoding": {"x": {"field": "x", "type": "quantitative", "axis": null}, "y": {"field": "y", "type": "quantitative", "axis": null}, "text": {"field": "t"}}},
        {"data": {"name": "notes"}, "transform": [{"filter": "datum.p === 'B' && datum.k === 'letter'"}], "mark": {"type": "text", "font": "Liberation Sans", "fontSize": 25, "color": "black", "align": "left", "baseline": "middle"},
         "encoding": {"x": {"field": "x", "type": "quantitative", "axis": null}, "y": {"field": "y", "type": "quantitative", "axis": null}, "text": {"field": "t"}}},
        {"data": {"name": "notes"}, "transform": [{"filter": "datum.p === 'B' && datum.k === 'big'"}], "mark": {"type": "text", "font": "Open Sans", "fontSize": 51, "color": "black", "align": "left", "baseline": "alphabetic"},
         "encoding": {"x": {"field": "x", "type": "quantitative", "axis": null}, "y": {"field": "y", "type": "quantitative", "axis": null}, "text": {"field": "t"}}},
        {"data": {"name": "notes"}, "transform": [{"filter": "datum.p === 'B' && datum.k === 'exp'"}], "mark": {"type": "text", "font": "Liberation Sans", "fontSize": 19, "color": "black", "align": "left", "baseline": "alphabetic"},
         "encoding": {"x": {"field": "x", "type": "quantitative", "axis": null}, "y": {"field": "y", "type": "quantitative", "axis": null}, "text": {"field": "t"}}},
        {"data": {"name": "notes"}, "transform": [{"filter": "datum.p === 'B' && datum.k === 'sup'"}], "mark": {"type": "text", "font": "Liberation Sans", "fontSize": 12, "color": "black", "align": "left", "baseline": "alphabetic"},
         "encoding": {"x": {"field": "x", "type": "quantitative", "axis": null}, "y": {"field": "y", "type": "quantitative", "axis": null}, "text": {"field": "t"}}}
      ]
    },
    {
      "width": 1183, "height": 224,
      "resolve": {"axis": {"x": "independent", "y": "independent"}},
      "layer": [
        {"data": {"values": [{"z": 0}]}, "mark": {"type": "rule", "color": "#c8c8c8", "strokeWidth": 1.2},
         "encoding": {"y": {"field": "z", "type": "quantitative", "scale": {"domain": [-1.3, 1.3], "nice": false, "zero": false}, "axis": {"orient": "right", "values": [-1, -0.5, 0, 0.5, 1], "labels": false, "title": null, "tickSize": -10, "domain": false, "grid": false}}}},
        {"data": {"name": "curves"}, "transform": [{"filter": "datum.p === 'C'"}],
         "mark": {"type": "line", "interpolate": "monotone", "strokeWidth": 4.5, "strokeCap": "round", "strokeJoin": "round"},
         "encoding": {
           "x": {"field": "x", "type": "quantitative", "scale": {"domain": [-50, 300], "nice": false, "zero": false}, "axis": {"orient": "bottom", "values": [-50, 0, 50, 100, 150, 200, 250, 300], "labels": true, "labelPadding": 19, "labelOffset": {"condition": {"test": "datum.value === 300", "value": -18}, "value": 11}, "title": null, "tickSize": -10, "domain": false, "grid": false}},
           "y": {"field": "y", "type": "quantitative", "scale": {"domain": [-1.3, 1.3], "nice": false, "zero": false}, "axis": {"orient": "left", "values": [-1, -0.5, 0, 0.5, 1], "format": "~g", "title": "East Force (N)", "tickSize": -10, "labelPadding": 16, "titlePadding": 2, "titleY": 103, "domain": false, "grid": false}},
           "color": {"field": "s", "type": "nominal", "scale": {"domain": ["T=75−150 sec", "T=30−150 sec"], "range": ["#c41e2f", "#2c4a9a"]}, "legend": null}
         }},
        {"data": {"name": "edges"}, "transform": [{"filter": "datum.p === 'C'"}], "mark": {"type": "rule", "color": "#000000", "opacity": 0.08, "strokeWidth": 4, "xOffset": 3},
         "encoding": {"x": {"field": "x", "type": "quantitative", "axis": null}, "y": {"field": "y", "type": "quantitative", "axis": null}, "y2": {"field": "y2"}}},
        {"data": {"name": "edges"}, "transform": [{"filter": "datum.p === 'C'"}], "mark": {"type": "rule", "color": "#5f9bd6", "strokeWidth": 2},
         "encoding": {"x": {"field": "x", "type": "quantitative", "scale": {"domain": [-50, 300], "nice": false, "zero": false}, "axis": {"orient": "top", "values": [-50, 0, 50, 100, 150, 200, 250, 300], "labels": false, "title": null, "tickSize": -10, "domain": false, "grid": false}},
           "y": {"field": "y", "type": "quantitative", "scale": {"domain": [-1.3, 1.3], "nice": false, "zero": false}, "axis": null}, "y2": {"field": "y2"}}},
        {"data": {"name": "dots"}, "transform": [{"filter": "datum.p === 'C'"}], "mark": {"type": "rule", "color": "#9a9a9a", "strokeWidth": 2.5, "strokeDash": [2, 3]},
         "encoding": {"x": {"field": "x", "type": "quantitative", "axis": null}, "y": {"field": "y", "type": "quantitative", "axis": null}, "y2": {"field": "y2"}}},
        {"data": {"name": "hedges"}, "transform": [{"filter": "datum.p === 'C'"}], "mark": {"type": "rule", "color": "#5f9bd6", "strokeWidth": 2},
         "encoding": {"x": {"field": "x", "type": "quantitative", "axis": null}, "x2": {"field": "x2"}, "y": {"field": "y", "type": "quantitative", "axis": null}}},
        {"data": {"name": "notes"}, "transform": [{"filter": "datum.p === 'C' && datum.k === 'letter'"}], "mark": {"type": "text", "font": "Liberation Sans", "fontSize": 25, "color": "black", "align": "left", "baseline": "middle"},
         "encoding": {"x": {"field": "x", "type": "quantitative", "axis": null}, "y": {"field": "y", "type": "quantitative", "axis": null}, "text": {"field": "t"}}},
        {"data": {"name": "notes"}, "transform": [{"filter": "datum.p === 'C' && datum.k === 'big'"}], "mark": {"type": "text", "font": "Open Sans", "fontSize": 51, "color": "black", "align": "left", "baseline": "alphabetic"},
         "encoding": {"x": {"field": "x", "type": "quantitative", "axis": null}, "y": {"field": "y", "type": "quantitative", "axis": null}, "text": {"field": "t"}}},
        {"data": {"name": "notes"}, "transform": [{"filter": "datum.p === 'C' && datum.k === 'exp'"}], "mark": {"type": "text", "font": "Liberation Sans", "fontSize": 19, "color": "black", "align": "left", "baseline": "alphabetic"},
         "encoding": {"x": {"field": "x", "type": "quantitative", "axis": null}, "y": {"field": "y", "type": "quantitative", "axis": null}, "text": {"field": "t"}}},
        {"data": {"name": "notes"}, "transform": [{"filter": "datum.p === 'C' && datum.k === 'sup'"}], "mark": {"type": "text", "font": "Liberation Sans", "fontSize": 12, "color": "black", "align": "left", "baseline": "alphabetic"},
         "encoding": {"x": {"field": "x", "type": "quantitative", "axis": null}, "y": {"field": "y", "type": "quantitative", "axis": null}, "text": {"field": "t"}}}
      ]
    }
  ]
}
